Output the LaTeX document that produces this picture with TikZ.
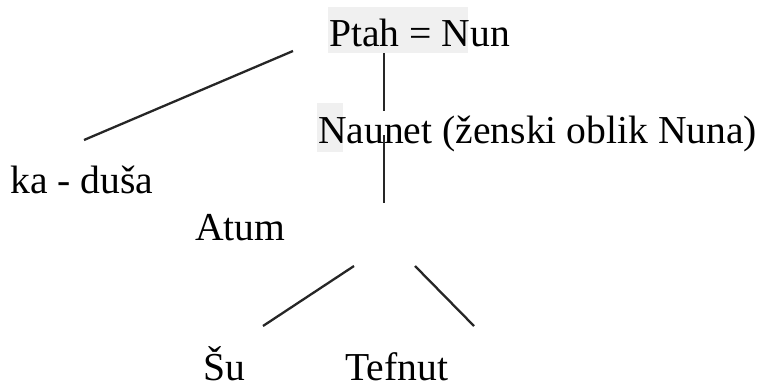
\documentclass[tikz,border=0pt]{standalone}
\usepackage{fontspec}
\setmainfont{Liberation Serif}
\begin{document}
\begin{tikzpicture}[x=1pt,y=-1pt,
  lbl/.style={anchor=base west,inner sep=0pt,font=\fontsize{39.6}{44}\selectfont,text=black},
  conn/.style={line width=2.3pt,draw=black!85},
  hl/.style={fill=black!6,draw=none}]
\useasboundingbox (0,0) rectangle (766,388);
% highlight boxes
\fill[hl] (328,7) rectangle (468,53);
\fill[hl] (317,103) rectangle (343,152);
% labels
\node[lbl] (ptah) at (329,46) {Ptah = Nun};
\node[lbl] (naunet) at (318,143) {Naunet (ženski oblik Nuna)};
\node[lbl] (ka) at (10,193) {ka - duša};
\node[lbl] (atum) at (195,240) {Atum};
\node[lbl] (su) at (203,380) {Šu};
\node[lbl] (tefnut) at (345,380) {Tefnut};
% connector end points
\coordinate (d1) at (293,51);
\coordinate (d2) at (84,140);
\coordinate (v1) at (384,53);
\coordinate (v2) at (384,111);
\coordinate (v3) at (384,135);
\coordinate (v4) at (384,203);
\coordinate (l1) at (354,266);
\coordinate (l2) at (263,326);
\coordinate (r1) at (415,266);
\coordinate (r2) at (474,326);
\draw[conn] (d1) -- (d2);
\draw[conn] (v1) -- (v2);
\draw[conn] (v3) -- (v4);
\draw[conn] (l1) -- (l2);
\draw[conn] (r1) -- (r2);
\end{tikzpicture}
\end{document}
